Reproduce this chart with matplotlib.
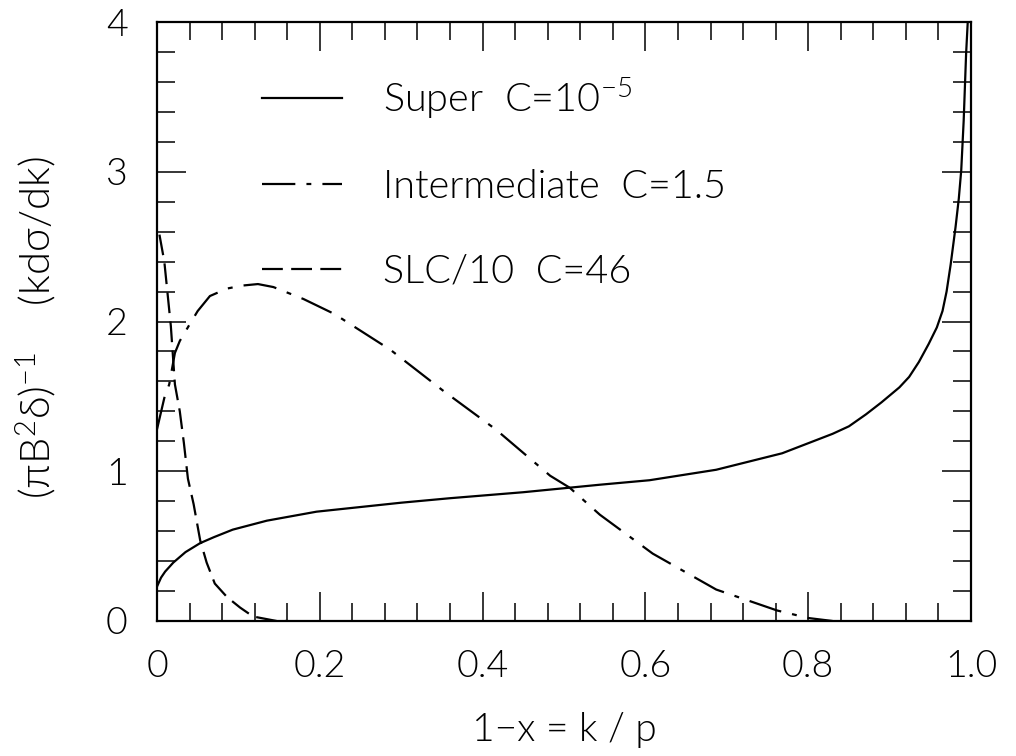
import matplotlib
matplotlib.use("Agg")
import matplotlib.pyplot as plt
from matplotlib.ticker import MultipleLocator, FixedLocator, FixedFormatter

# Super (C = 1e-5) spectrum
super_x = [0.0, 0.005, 0.01, 0.02, 0.035, 0.053, 0.07, 0.093, 0.135, 0.196, 0.30, 0.36,
           0.45, 0.544, 0.605, 0.687, 0.768, 0.83, 0.85, 0.871, 0.89, 0.912, 0.924, 0.936,
           0.948, 0.958, 0.965, 0.97, 0.975, 0.981, 0.985, 0.988, 0.991, 0.994, 0.996]
super_y = [0.23, 0.29, 0.33, 0.39, 0.46, 0.52, 0.56, 0.61, 0.67, 0.73, 0.79, 0.82,
           0.86, 0.91, 0.94, 1.01, 1.12, 1.25, 1.30, 1.38, 1.46, 1.56, 1.63, 1.73,
           1.85, 1.96, 2.07, 2.20, 2.38, 2.63, 2.82, 3.01, 3.34, 3.79, 4.0]

# Intermediate (C = 1.5)
inter_x = [0.0, 0.009, 0.015, 0.022, 0.028, 0.04, 0.05, 0.065, 0.086, 0.105, 0.124, 0.143,
           0.18, 0.218, 0.287, 0.351, 0.416, 0.483, 0.507, 0.544, 0.609, 0.687, 0.762,
           0.80, 0.83]
inter_y = [1.28, 1.49, 1.58, 1.79, 1.87, 1.98, 2.07, 2.17, 2.22, 2.24, 2.25, 2.23,
           2.15, 2.05, 1.81, 1.54, 1.28, 0.97, 0.89, 0.71, 0.45, 0.21, 0.07,
           0.02, 0.0]

# SLC/10 (C = 46)
slc_x = [0.003, 0.009, 0.017, 0.022, 0.028, 0.033, 0.038, 0.045, 0.053, 0.061, 0.071,
         0.086, 0.102, 0.118, 0.147, 0.16]
slc_y = [2.58, 2.40, 1.97, 1.58, 1.40, 1.19, 0.95, 0.78, 0.54, 0.39, 0.25,
         0.16, 0.09, 0.03, 0.0, 0.0]

labels = [r"Super  C=10$^{-5}$", "Intermediate  C=1.5", "SLC/10  C=46"]
x_ticks = [0, 0.2, 0.4, 0.6, 0.8, 1.0]
x_tick_labels = ["0", "0.2", "0.4", "0.6", "0.8", "1.0"]
y_ticks = [0, 1, 2, 3, 4]
y_tick_labels = ["0", "1", "2", "3", "4"]

plt.rcParams["font.family"] = ["Lato", "DejaVu Sans"]
plt.rcParams["font.weight"] = 300
plt.rcParams["axes.labelweight"] = 300
plt.rcParams["mathtext.fontset"] = "custom"
plt.rcParams["mathtext.rm"] = "Lato:weight=300"
plt.rcParams["mathtext.it"] = "Lato:weight=300"
plt.rcParams["lines.scale_dashes"] = False

fig = plt.figure(figsize=(10.16, 7.56), dpi=100)
ax = fig.add_axes([157 / 1016, 1 - 621 / 756, (971 - 157) / 1016, (621 - 22) / 756])

lw = 1.6
ax.plot(super_x, super_y, color="black", lw=lw, label=labels[0])
ax.plot(inter_x, inter_y, color="black", lw=lw, dashes=[24, 8, 3.5, 8], label=labels[1])
ax.plot(slc_x, slc_y, color="black", lw=lw, dashes=[15, 6], label=labels[2])

ax.set_xlim(0, 1.0)
ax.set_ylim(0, 4)

ax.xaxis.set_major_locator(FixedLocator(x_ticks))
ax.xaxis.set_major_formatter(FixedFormatter(x_tick_labels))
ax.xaxis.set_minor_locator(MultipleLocator(0.04))
ax.yaxis.set_major_locator(FixedLocator(y_ticks))
ax.yaxis.set_major_formatter(FixedFormatter(y_tick_labels))
ax.yaxis.set_minor_locator(MultipleLocator(0.2))

ax.tick_params(which="both", direction="in", top=True, right=True, width=1.1)
ax.tick_params(which="major", length=21, pad=21, labelsize=27)
ax.tick_params(which="minor", length=13)
for s in ax.spines.values():
    s.set_linewidth(1.6)

ax.set_xlabel("1\u2212x = k / p", fontsize=28)
ax.xaxis.set_label_coords(0.5, -0.152)
ax.set_ylabel(r"$\mathrm{(\pi B^{2}\delta)^{-1}}$    (kd$\sigma$/dk)", fontsize=30)
ax.yaxis.set_label_coords(-0.121, 0.49)

ax.legend(loc="upper left", bbox_to_anchor=(0.11, 0.937), frameon=False, fontsize=28.5,
          handlelength=2.02, handletextpad=1.03, labelspacing=1.22, borderaxespad=0)

fig.savefig("out.png", dpi=100)
